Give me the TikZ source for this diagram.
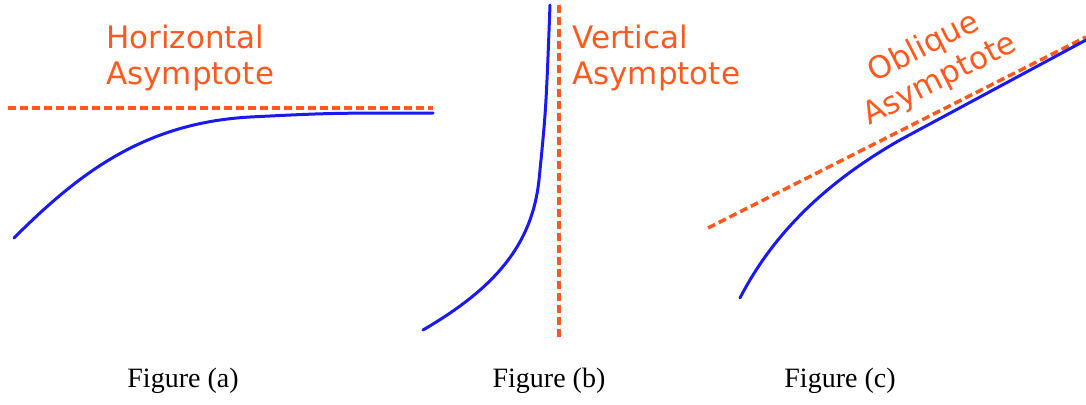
\documentclass[tikz,border=0pt]{standalone}
\usepackage{fontspec}
\setmainfont{Liberation Serif}
\newfontfamily\labfont{DejaVu Sans}
\begin{document}
\begin{tikzpicture}[x=1pt,y=-1pt,
  asym/.style={draw={rgb,255:red,255;green,90;blue,30},line width=3.5pt,dash pattern=on 8pt off 4pt},
  curve/.style={draw={rgb,255:red,25;green,25;blue,240},line width=3pt,line cap=round},
  lab/.style={text={rgb,255:red,255;green,90;blue,30},font=\labfont\fontsize{31}{36}\selectfont,inner sep=0pt,align=left},
  figcap/.style={font=\fontsize{28}{32}\selectfont,inner sep=0pt}]
\useasboundingbox (0,0) rectangle (1086,404);
% Figure (a)
\coordinate (ha1) at (8,108);
\coordinate (ha2) at (433,108);
\draw[asym] (ha1) -- (ha2);
\draw[curve] (14,238) .. controls (80,172) and (145,123) .. (250,117) .. controls (330,113) .. (433,113);
\node[lab,anchor=north west] (la) at (106,25) {Horizontal\\Asymptote};
% Figure (b)
\coordinate (vb1) at (559,5);
\coordinate (vb2) at (559,341);
\draw[asym] (vb1) -- (vb2);
\draw[curve] (423,330) .. controls (495,288) and (532,245) .. (539,180) .. controls (546,110) .. (550,5);
\node[lab,anchor=north west] (lb) at (572,25) {Vertical\\Asymptote};
% Figure (c)
\coordinate (oc1) at (708,228);
\coordinate (oc2) at (1086,37);
\draw[asym] (oc1) -- (oc2);
\draw[curve] (740,298) .. controls (775,230) and (830,180) .. (900,140) -- (1086,40);
\node[lab,rotate=27,anchor=center,align=center] (lc) at (932,64) {Oblique\\Asymptote};
% captions
\node[figcap] (fa) at (183,381) {Figure (a)};
\node[figcap] (fb) at (549,381) {Figure (b)};
\node[figcap] (fc) at (840,381) {Figure (c)};
\end{tikzpicture}
\end{document}
